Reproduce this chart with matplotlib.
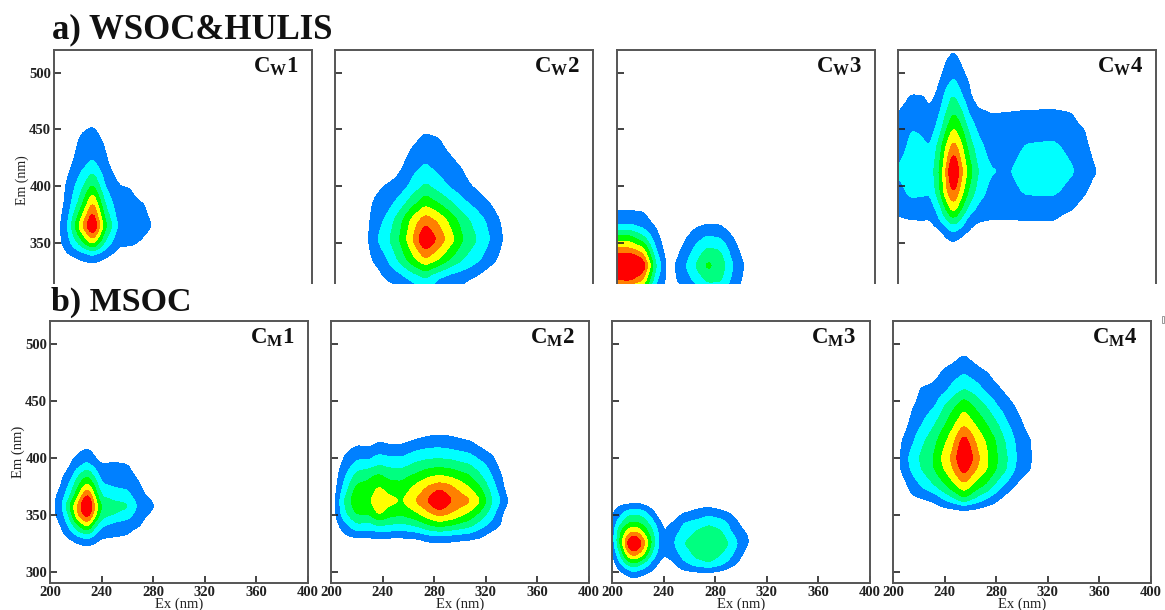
#!/usr/bin/env python3
"""EEM contour maps of the PARAFAC components, WSOC&HULIS and MSOC"""

import matplotlib
matplotlib.use("Agg")
import matplotlib.pyplot as plt
from matplotlib.patches import Rectangle
import numpy as np

plt.rcParams["font.family"] = ["Liberation Serif", "DejaVu Serif"]
plt.rcParams["font.weight"] = "bold"
plt.rcParams["mathtext.fontset"] = "custom"
plt.rcParams["mathtext.bf"] = "Liberation Serif:bold"
plt.rcParams["mathtext.rm"] = "Liberation Serif:bold"

W, H = 1165, 610

# grid values are in contour band units: 1 = outer edge of blue, 7 = edge of red
CW1_EX = [200, 210, 220, 230, 240, 250, 260, 270, 280, 290]
CW1_EM = [460, 440, 420, 400, 385, 365, 350, 340, 330, 320]
CW1_Z = [
    [0, 0, 0.6, 0.7, 0.3, 0, 0, 0, 0, 0],
    [0, 0.2, 1.1, 1.5, 0.8, 0, 0, 0, 0, 0],
    [0, 0.6, 1.5, 2.2, 1.2, 0.3, 0, 0, 0, 0],
    [0, 1.1, 2.5, 4.2, 1.9, 1.05, 0.95, 0.3, 0, 0],
    [0, 1.3, 3.3, 6.2, 2.8, 1.3, 1.2, 1.0, 0.3, 0],
    [0.2, 1.8, 5.4, 8.6, 4.2, 1.8, 1.5, 1.3, 0.8, 0],
    [0.3, 1.5, 3.3, 5.4, 2.7, 1.2, 1.2, 0.8, 0.2, 0],
    [0, 0.9, 1.5, 2.1, 1.3, 0.6, 0.4, 0.1, 0, 0],
    [0, 0, 0.5, 0.7, 0.4, 0, 0, 0, 0, 0],
    [0, 0, 0, 0, 0, 0, 0, 0, 0, 0],
]

CW2_EX = [220, 230, 240, 250, 260, 270, 280, 290, 300, 310, 320, 330, 340]
CW2_EM = [460, 440, 420, 400, 385, 370, 353, 335, 320, 305, 290]
CW2_Z = [
    [0, 0, 0, 0, 0.3, 0.5, 0.3, 0, 0, 0, 0, 0, 0],
    [0, 0, 0, 0.2, 0.8, 1.25, 1.1, 0.6, 0, 0, 0, 0, 0],
    [0, 0, 0, 0.7, 1.5, 2.0, 1.5, 1.2, 0.8, 0, 0, 0, 0],
    [0, 0.7, 1.1, 1.4, 2.3, 3.2, 2.5, 1.8, 1.3, 0.8, 0.3, 0, 0],
    [0, 1.1, 1.5, 2.4, 3.6, 4.7, 4.0, 3.1, 2.2, 1.6, 1.0, 0.2, 0],
    [0, 1.4, 2.2, 3.6, 5.3, 6.6, 5.8, 4.6, 3.4, 2.5, 1.7, 0.8, 0],
    [0, 1.7, 2.7, 4.0, 5.9, 8.3, 6.8, 5.4, 3.9, 3, 2.0, 1.0, 0],
    [0, 1.1, 1.9, 3.2, 4.6, 5.8, 5.0, 3.8, 2.9, 2.2, 1.4, 0.6, 0],
    [0, 0.3, 1.2, 1.6, 2.4, 3.1, 2.1, 1.6, 1.3, 0.9, 0.3, 0, 0],
    [0, 0, 0, 0.8, 1.0, 1.5, 1.2, 0.9, 0.5, 0, 0, 0, 0],
    [0, 0, 0, 0, 0, 0, 0, 0, 0, 0, 0, 0, 0],
]

CW3_EX = [200, 210, 220, 230, 240, 250, 260, 270, 280, 290, 300, 310]
CW3_EM = [390, 375, 365, 355, 345, 330, 315, 300, 290]
CW3_Z = [
    [0, 0, 0, 0, 0, 0, 0, 0, 0, 0, 0, 0],
    [1.3, 1.3, 1.2, 0.3, 0, 0, 0, 0, 0, 0, 0, 0],
    [2.1, 2.1, 1.7, 0.9, 0, 0, 0.8, 1.2, 1.1, 0.3, 0, 0],
    [4.3, 4.3, 3.2, 1.4, 0, 0.6, 1.5, 2.1, 1.9, 1.0, 0, 0],
    [6.1, 6.1, 5.2, 2.0, 0.2, 1.0, 2.1, 3.1, 2.9, 1.4, 0.4, 0],
    [9, 9.5, 8, 3.1, 0.5, 1.5, 2.9, 4.3, 3.7, 2, 0.8, 0],
    [6.6, 6.6, 5.6, 2.1, 0.5, 1.2, 2, 3, 3, 1.6, 0.6, 0],
    [1.5, 1.5, 1, 0.3, 0, 0, 0.5, 1, 1, 0.3, 0, 0],
    [0, 0, 0, 0, 0, 0, 0, 0, 0, 0, 0, 0],
]

CW4_EX = [200, 210, 218, 225, 232, 237, 243, 249, 255, 262, 272, 285, 300, 320, 335, 345, 355, 362]
CW4_EM = [525, 510, 495, 480, 465, 450, 435, 413, 395, 380, 370, 360, 350, 340]
CW4_Z = [
    [0, 0, 0, 0, 0, 0, 0.7, 0, 0, 0, 0, 0, 0, 0, 0, 0, 0, 0],
    [0, 0, 0, 0, 0.3, 1.0, 1.5, 0.9, 0.2, 0, 0, 0, 0, 0, 0, 0, 0, 0],
    [0, 0, 0, 0, 0.9, 1.4, 2.05, 1.4, 0.9, 0, 0, 0, 0, 0, 0, 0, 0, 0],
    [0.3, 1.05, 1.05, 0.7, 1.3, 2.3, 3.1, 2.1, 1.2, 0.4, 0, 0, 0, 0, 0, 0, 0, 0],
    [1.0, 1.6, 1.5, 1.15, 1.9, 2.9, 4.0, 3.2, 1.9, 1.2, 1.0, 1.05, 1.15, 1.2, 1.0, 0.4, 0, 0],
    [1.3, 2.0, 1.9, 1.5, 2.5, 3.8, 5.2, 4.2, 2.8, 1.8, 1.2, 1.2, 1.45, 1.6, 1.3, 1.0, 0, 0],
    [1.6, 2.2, 2.2, 2.0, 3.4, 5, 6.5, 5.3, 3.6, 2.4, 1.5, 1.5, 2.1, 2.2, 1.7, 1.2, 0.5, 0],
    [2.1, 2.5, 2.6, 2.4, 4, 6, 8.8, 6.3, 4.6, 3, 2.1, 1.9, 2.5, 2.6, 2.1, 1.5, 0.95, 0],
    [1.7, 2.2, 2.2, 2.1, 3.7, 5.7, 7.2, 5.5, 3.8, 2.6, 1.6, 1.6, 2.15, 2.2, 1.6, 1.1, 0.4, 0],
    [1.3, 1.6, 1.5, 1.4, 2.5, 4.0, 5.6, 4, 2.7, 1.7, 1.3, 1.25, 1.3, 1.3, 1.05, 0.5, 0, 0],
    [0.8, 1.0, 1.05, 1.0, 1.9, 2.8, 3.7, 2.8, 1.5, 1.1, 1.0, 1.0, 1.05, 1.05, 0.6, 0.2, 0, 0],
    [0, 0, 0, 0.3, 0.8, 1.4, 2.1, 1.5, 0.9, 0.5, 0.3, 0.3, 0.4, 0.4, 0.1, 0, 0, 0],
    [0, 0, 0, 0, 0, 0.6, 0.9, 0.5, 0, 0, 0, 0, 0, 0, 0, 0, 0, 0],
    [0, 0, 0, 0, 0, 0, 0, 0, 0, 0, 0, 0, 0, 0, 0, 0, 0, 0],
]

CM1_EX = [200, 210, 216, 222, 229, 235, 240, 250, 260, 270, 280, 290]
CM1_EM = [415, 405, 395, 385, 375, 365, 358, 350, 340, 330, 320]
CM1_Z = [
    [0, 0, 0, 0.2, 0.4, 0, 0, 0, 0, 0, 0, 0],
    [0, 0.1, 0.6, 0.9, 1.3, 0.7, 0, 0, 0, 0, 0, 0],
    [0, 0.2, 1.0, 1.5, 2.1, 1.4, 1.0, 1.15, 1.0, 0.3, 0, 0],
    [0, 0.9, 1.5, 2.9, 3.8, 2.6, 1.5, 1.4, 1.3, 0.7, 0, 0],
    [0, 1.2, 2.4, 4.0, 5.6, 3.8, 2.2, 1.9, 1.8, 1.05, 0.2, 0],
    [0.3, 1.8, 3.2, 5.2, 7.8, 5.0, 3.1, 2.7, 2.4, 1.3, 0.8, 0],
    [0.3, 2.1, 4.3, 6.4, 9, 5.8, 3.9, 3.4, 3.2, 1.6, 1.1, 0],
    [0.3, 1.8, 3.6, 6.2, 7.8, 5.4, 3.4, 3.0, 2.5, 1.3, 0.8, 0],
    [0, 1.2, 2.4, 3.9, 5.2, 3.1, 2.1, 1.5, 1.3, 1.0, 0.2, 0],
    [0, 0.7, 1.2, 1.8, 2.2, 1.6, 1.1, 1, 0.9, 0.4, 0, 0],
    [0, 0, 0, 0.4, 0.6, 0.4, 0, 0, 0, 0, 0, 0],
]

CM2_EX = [200, 210, 220, 230, 237, 245, 255, 266, 276, 284, 292, 307, 316, 325, 332, 340]
CM2_EM = [425, 415, 405, 395, 385, 375, 362, 350, 340, 330, 320]
CM2_Z = [
    [0, 0, 0, 0, 0, 0, 0, 0.2, 0.4, 0.5, 0.4, 0, 0, 0, 0, 0],
    [0, 0, 0.6, 0.5, 0.9, 0.7, 0.7, 1.1, 1.4, 1.5, 1.4, 1.0, 0.5, 0, 0, 0],
    [0, 0.8, 1.5, 1.4, 1.8, 1.6, 1.6, 2.1, 2.3, 2.3, 2.2, 1.9, 1.3, 0.8, 0, 0],
    [0, 1.2, 2.2, 2.3, 2.8, 2.6, 2.5, 3.1, 3.4, 3.5, 3.4, 2.9, 2.2, 1.5, 0.5, 0],
    [0, 1.7, 3.3, 3.8, 4.1, 3.6, 3.6, 4.1, 4.7, 4.9, 4.7, 4.0, 3.0, 1.9, 1, 0],
    [0, 2.2, 4.2, 4.3, 5.0, 4.4, 4.3, 5.2, 6.1, 6.5, 6.2, 4.9, 3.9, 2.4, 1.3, 0],
    [0, 3, 4.95, 4.9, 6.0, 5.4, 4.95, 6.1, 7.2, 8.6, 7.2, 6.2, 5.0, 3, 1.9, 0.5],
    [0, 2.6, 4.0, 4.0, 5.1, 4.3, 4.1, 4.7, 5.7, 6.2, 5.9, 4.7, 3.6, 2.3, 1.1, 0],
    [0, 1.5, 2.7, 2.5, 2.9, 2.8, 2.6, 3, 3.8, 4.2, 3.9, 3.2, 2.3, 1.5, 0.9, 0],
    [0, 0.7, 1.0, 1.0, 1.1, 1, 1.0, 1.1, 1.5, 1.6, 1.5, 1.3, 1.0, 0.3, 0, 0],
    [0, 0, 0, 0, 0, 0, 0, 0, 0.3, 0.3, 0.3, 0, 0, 0, 0, 0],
]

CM3_EX = [200, 206, 213, 217, 221, 225, 230, 236, 240, 247, 255, 265, 275, 285, 292, 300, 307, 315]
CM3_EM = [365, 358, 350, 343, 335, 325, 315, 308, 300, 293]
CM3_Z = [
    [0, 0, 0, 0.4, 0, 0, 0, 0, 0, 0, 0, 0, 0, 0, 0, 0, 0, 0],
    [0.6, 1, 1.2, 1.3, 1.3, 1.05, 0.6, 0, 0, 0, 0.3, 0.7, 0.8, 0.5, 0.2, 0, 0, 0],
    [0.9, 1.7, 2.9, 3, 2.9, 2.6, 1.8, 0.6, 0.2, 0.3, 1.1, 1.4, 1.8, 1.5, 1.1, 0.2, 0, 0],
    [1.1, 2.6, 3.9, 4.0, 3.9, 3.4, 2.6, 1.4, 0.7, 1.0, 2, 2.3, 2.8, 2.4, 1.7, 0.8, 0.2, 0],
    [1.3, 3.8, 5.6, 6.0, 5.7, 4.7, 3.5, 1.9, 0.9, 1.6, 2.2, 3.1, 3.5, 3.1, 2, 1.2, 0.8, 0],
    [1.3, 4.0, 7.8, 9, 7.8, 6.4, 4.2, 2.1, 1.2, 1.8, 3, 3.5, 3.7, 3.5, 2.9, 1.6, 0.9, 0],
    [0.8, 2.8, 5.8, 6.4, 5.8, 4.9, 3, 1.6, 1.0, 1.4, 2.3, 3.3, 3.5, 3, 2.2, 1.1, 0.4, 0],
    [0.4, 1.9, 3.7, 4.2, 3.6, 3, 1.9, 1.0, 0.6, 0.9, 1.8, 2.6, 3.1, 2.4, 1.6, 0.7, 0.1, 0],
    [0, 0.9, 1.6, 2, 1.7, 1.4, 1, 0.4, 0.1, 0.2, 0.8, 1, 1.1, 0.8, 0.4, 0, 0, 0],
    [0, 0, 0.6, 0.7, 0.6, 0.4, 0, 0, 0, 0, 0, 0, 0, 0, 0, 0, 0, 0],
]

CM4_EX = [200, 206, 214, 222, 232, 241, 247, 255, 264, 273, 281, 288, 295, 307, 315]
CM4_EM = [500, 490, 475, 460, 445, 430, 415, 400, 390, 375, 365, 355, 345]
CM4_Z = [
    [0, 0, 0, 0, 0, 0, 0, 0.4, 0, 0, 0, 0, 0, 0, 0],
    [0, 0, 0, 0, 0, 0.2, 0.6, 1.02, 0.5, 0, 0, 0, 0, 0, 0],
    [0, 0, 0, 0, 0.6, 1.3, 1.5, 1.9, 1.4, 1, 0.4, 0, 0, 0, 0],
    [0, 0, 0.2, 1.15, 1.3, 1.8, 2.4, 3, 2.5, 1.7, 1.2, 0.7, 0.2, 0, 0],
    [0, 0, 0.85, 1.4, 1.9, 3.2, 3.8, 4.8, 3.8, 2.9, 2, 1.5, 0.95, 0, 0],
    [0, 0.3, 1.2, 1.9, 2.9, 4, 4.8, 5.8, 4.9, 3.9, 3, 2.1, 1.5, 0.4, 0],
    [0, 0.9, 1.7, 2.7, 3.7, 4.9, 5.8, 7.6, 5.9, 4.8, 3.8, 2.8, 1.9, 1.0, 0],
    [0, 1.1, 2.3, 3.2, 4.1, 5.6, 6.4, 8.6, 6.5, 5.1, 4, 3.1, 2.05, 1.05, 0],
    [0, 1.05, 2.1, 3, 4, 5.2, 6.1, 7.6, 6.1, 5.0, 3.9, 3, 1.9, 1.0, 0],
    [0, 0.3, 1.3, 2, 2.9, 3.9, 4.7, 5.7, 4.5, 3.7, 2.5, 1.7, 0.9, 0, 0],
    [0, 0, 0.8, 1.1, 1.4, 2.4, 3, 4.1, 3, 2.1, 1.3, 0.6, 0.2, 0, 0],
    [0, 0, 0, 0, 0.5, 0.8, 0.9, 1.1, 0.9, 0.6, 0.3, 0, 0, 0, 0],
    [0, 0, 0, 0, 0, 0, 0, 0, 0, 0, 0, 0, 0, 0, 0],
]

LEVELS = [1, 2, 3, 4, 5, 6, 7, 20]
BAND_COLORS = ["#0080ff", "#00ffff", "#00ff80", "#00ff00", "#ffff00", "#ff8000", "#ff0000"]

EX_TICKS = [200, 240, 280, 320, 360, 400]
EM_TICKS = [300, 350, 400, 450, 500]

TOP_LABELS = ["W1", "W2", "W3", "W4"]
BOTTOM_LABELS = ["M1", "M2", "M3", "M4"]
TOP_DATA = [(CW1_EX, CW1_EM, CW1_Z), (CW2_EX, CW2_EM, CW2_Z),
            (CW3_EX, CW3_EM, CW3_Z), (CW4_EX, CW4_EM, CW4_Z)]
BOTTOM_DATA = [(CM1_EX, CM1_EM, CM1_Z), (CM2_EX, CM2_EM, CM2_Z),
               (CM3_EX, CM3_EM, CM3_Z), (CM4_EX, CM4_EM, CM4_Z)]

# panel edges in pixels
TOP_LEFT = [54, 335, 617, 898]
BOTTOM_LEFT = [50, 331, 612, 893]
PANEL_W = 258


def soften(values, half):
    # running mean along the last axis, so the read-off grid draws as round contours
    kernel = np.ones(2 * half + 1) / (2 * half + 1)
    padded = np.pad(values, ((0, 0), (half, half)), mode="edge")
    return np.array([np.convolve(row, kernel, mode="valid") for row in padded])


def fine_field(ex, em, z):
    z = np.array(z, dtype=float)[::-1]
    em = np.array(em)[::-1]
    fine_ex = np.arange(ex[0], ex[-1] + 0.5, 1.0)
    fine_em = np.arange(em[0], em[-1] + 0.5, 1.0)
    by_row = np.array([np.interp(fine_ex, ex, row) for row in z])
    field = np.array([np.interp(fine_em, em, col) for col in by_row.T]).T
    field = soften(field, 2)
    field = soften(field.T, 3).T
    return fine_ex, fine_em, field


def add_panel(fig, left, top, bottom, data, label):
    ax = fig.add_axes([left / W, 1 - bottom / H, PANEL_W / W, (bottom - top) / H])
    fine_ex, fine_em, field = fine_field(*data)
    ax.contourf(fine_ex, fine_em, field, levels=LEVELS, colors=BAND_COLORS)

    ax.set_xlim(200, 400)
    ax.set_ylim(290, 520)
    ax.set_xticks(EX_TICKS)
    ax.set_yticks(EM_TICKS)
    ax.tick_params(direction="in", length=5, width=1.2, color="#222222", labelsize=10.5,
                   pad=2, labelcolor="#222222")
    for spine in ax.spines.values():
        spine.set_linewidth(1.4)
        spine.set_color("#555555")

    ax.text(0.86, 0.935, r"$\mathbf{C_{%s}%s}$" % (label[0], label[1]), transform=ax.transAxes,
            fontsize=16.5, ha="center", va="center", color="#111111")
    return ax


def main():
    fig = plt.figure(figsize=(W / 100, H / 100), dpi=100)

    top_axes = []
    for left, data, label in zip(TOP_LEFT, TOP_DATA, TOP_LABELS):
        top_axes.append(add_panel(fig, left, 50, 311, data, label))
    bottom_axes = []
    for left, data, label in zip(BOTTOM_LEFT, BOTTOM_DATA, BOTTOM_LABELS):
        bottom_axes.append(add_panel(fig, left, 321, 583, data, label))

    for i, ax in enumerate(top_axes):
        ax.tick_params(labelbottom=False, labelleft=i == 0)
    for i, ax in enumerate(bottom_axes):
        ax.tick_params(labelleft=i == 0)
        ax.set_xlabel("Ex (nm)", fontsize=10.5, labelpad=-1, color="#222222")

    top_axes[0].set_ylabel("Em (nm)", fontsize=10, labelpad=0, color="#222222")
    bottom_axes[0].set_ylabel("Em (nm)", fontsize=10.5, labelpad=0, color="#222222")

    # the lower part of the upper row is hidden under the band with the second heading
    band = Rectangle((10 / W, 1 - 319 / H), (W - 10) / W, 35 / H, transform=fig.transFigure,
                     facecolor="white", edgecolor="none", zorder=5)
    fig.add_artist(band)
    fig.add_artist(Rectangle((1162 / W, 1 - 323 / H), 2 / W, 7 / H, transform=fig.transFigure,
                             facecolor="white", edgecolor="#888888", linewidth=0.6, zorder=6))

    fig.text(52 / W, 1 - 38 / H, "a) WSOC&HULIS", fontsize=25, color="#111111",
             ha="left", va="baseline", zorder=6)
    fig.text(51 / W, 1 - 311 / H, "b) MSOC", fontsize=24.5, color="#111111",
             ha="left", va="baseline", zorder=6)

    fig.savefig("out.png", dpi=100)


if __name__ == "__main__":
    main()
